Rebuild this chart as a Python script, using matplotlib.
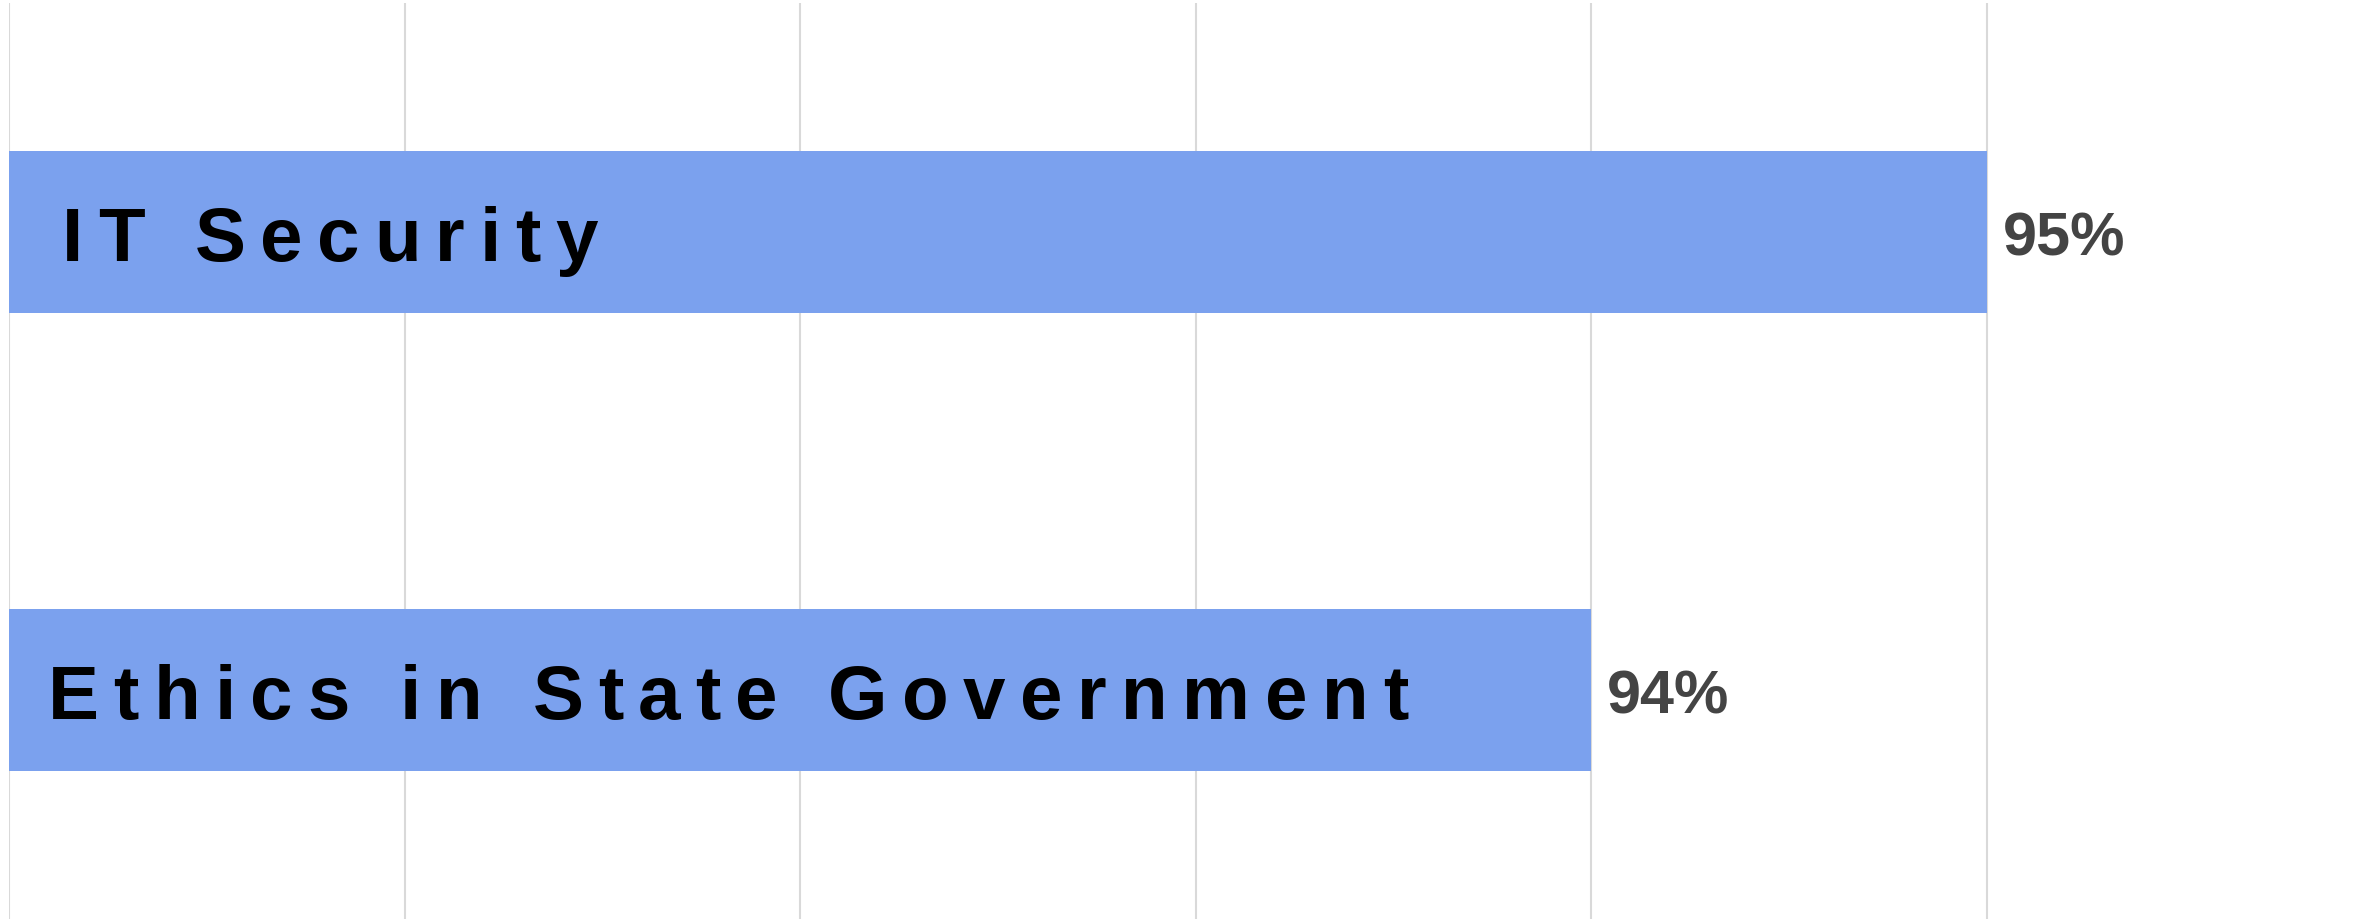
import matplotlib
matplotlib.use("Agg")
import matplotlib.pyplot as plt
from matplotlib import font_manager

try:
    from matplotlib.ft2font import LoadFlags
    NOHINT = LoadFlags.NO_HINTING
except ImportError:
    from matplotlib.ft2font import LOAD_NO_HINTING as NOHINT

# data
topics = ["IT Security", "Ethics in State Government"]
pct = [95, 94]
x_ticks = [90, 91, 92, 93, 94, 95, 96]

W, H, DPI = 2378, 920, 100
bar_col = "#7ba1ee"
grid_col = "#d9d9d9"


def pick_family(names):
    for name in names:
        try:
            font_manager.findfont(font_manager.FontProperties(family=name, weight="bold"),
                                  fallback_to_default=False)
            return name
        except ValueError:
            pass
    return "DejaVu Sans"


def advances(text, prop):
    # horizontal advance of each character, in pixels
    font = font_manager.get_font(font_manager.findfont(prop))
    font.set_size(prop.get_size_in_points(), DPI)
    out = []
    for ch in text:
        g = font.load_char(ord(ch), flags=NOHINT)
        out.append(g.linearHoriAdvance / 65536)
    return out


def tracked_text(ax, x, y, text, prop, track, dx, dy, color):
    # draw a letter-spaced label one glyph at a time
    off = dx
    for ch, adv in zip(text, advances(text, prop)):
        if ch != " ":
            ax.annotate(ch, (x, y), xytext=(off, dy), textcoords="offset pixels",
                        ha="left", va="baseline", fontproperties=prop, color=color,
                        annotation_clip=False)
        off += adv + track


narrow = pick_family(["Liberation Sans Narrow", "Arial Narrow"])
if narrow == "DejaVu Sans":
    lab_family, track_em = "Liberation Sans", 0.19
else:
    lab_family, track_em = narrow, 0.28

lab_size = 55
lab_prop = font_manager.FontProperties(family=lab_family, weight="bold", size=lab_size)
val_prop = font_manager.FontProperties(family="Liberation Sans", weight="bold", size=44)
lab_px = lab_size * DPI / 72
track = track_em * lab_px

fig = plt.figure(figsize=(W / DPI, H / DPI), dpi=DPI)
ax = fig.add_axes([9 / W, 0, 2373 / W, 916 / H])

ypos = list(range(len(topics)))
ax.barh(ypos, pct, height=0.353, color=bar_col, zorder=2)

ax.set_xlim(x_ticks[0], x_ticks[-1])
ax.set_ylim(1.5, -0.5)
ax.set_xticks(x_ticks)
ax.set_yticks([])
ax.grid(axis="x", color=grid_col, linewidth=1.5)
ax.set_axisbelow(True)
ax.tick_params(length=0, labelbottom=False, labelleft=False)
for s in ax.spines.values():
    s.set_visible(False)

insets = [53, 39]
for y, name, v, ins in zip(ypos, topics, pct, insets):
    tracked_text(ax, x_ticks[0], y, name, lab_prop, track, ins, -28, "black")
    ax.annotate(f"{v}%", (v, y), xytext=(16, -23), textcoords="offset pixels",
                ha="left", va="baseline", fontproperties=val_prop, color="#444444",
                annotation_clip=False)

fig.savefig("out.png", dpi=DPI)
